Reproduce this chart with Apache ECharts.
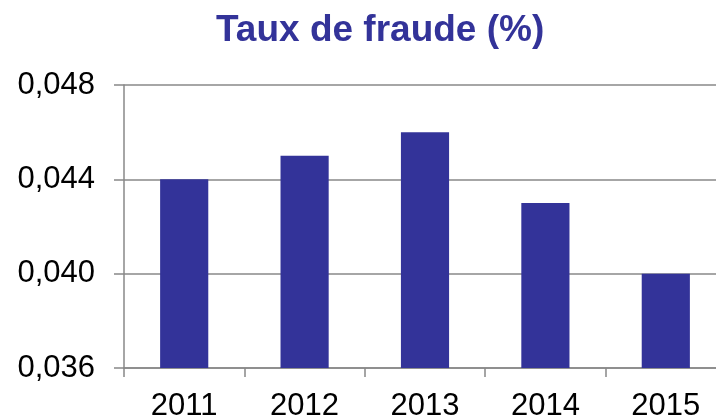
<!DOCTYPE html>
<html>
<head>
<meta charset="utf-8">
<script src="https://cdn.jsdelivr.net/npm/echarts@6/dist/echarts.min.js"></script>
<style>html,body{margin:0;padding:0;background:#fff}#c{width:716px;height:419px}</style>
</head>
<body>
<div id="c"></div>
<script>
const categories = ['2011', '2012', '2013', '2014', '2015'];
const fraudRate = [0.044, 0.045, 0.046, 0.043, 0.040];
const yMin = 0.036, yMax = 0.048, yStep = 0.004;
const titleText = 'Taux de fraude (%)';

const chart = echarts.init(document.getElementById('c'), null, {renderer: 'canvas'});
const fontFam = '"Liberation Sans", Arial, sans-serif';
chart.setOption({
  animation: false,
  title: {
    text: titleText,
    left: 211, top: 7,
    textStyle: {fontFamily: fontFam, fontSize: 37, fontWeight: 'bold', color: '#333399'}
  },
  grid: {left: 124, right: -10, top: 85, bottom: 51, containLabel: false, outerBoundsMode: 'none'},
  xAxis: {
    type: 'category',
    data: categories,
    boundaryGap: true,
    axisLine: {show: true, lineStyle: {color: '#888', width: 1.5}},
    axisTick: {show: true, length: 9, alignWithLabel: false, lineStyle: {color: '#888', width: 1.5}},
    axisLabel: {margin: 23, fontFamily: fontFam, fontSize: 31, color: '#000'}
  },
  yAxis: {
    type: 'value',
    min: yMin, max: yMax, interval: yStep,
    axisLine: {show: true, lineStyle: {color: '#888', width: 1.5}},
    axisTick: {show: true, length: 10, lineStyle: {color: '#888', width: 1.5}},
    splitLine: {show: true, lineStyle: {color: '#888', width: 1.5}},
    axisLabel: {
      margin: 29, fontFamily: fontFam, fontSize: 31, color: '#000',
      formatter: v => v.toFixed(3).replace('.', ',')
    }
  },
  series: [{
    type: 'bar',
    data: fraudRate,
    barWidth: '40%',
    itemStyle: {color: '#333399'}
  }]
});
</script>
</body>
</html>
